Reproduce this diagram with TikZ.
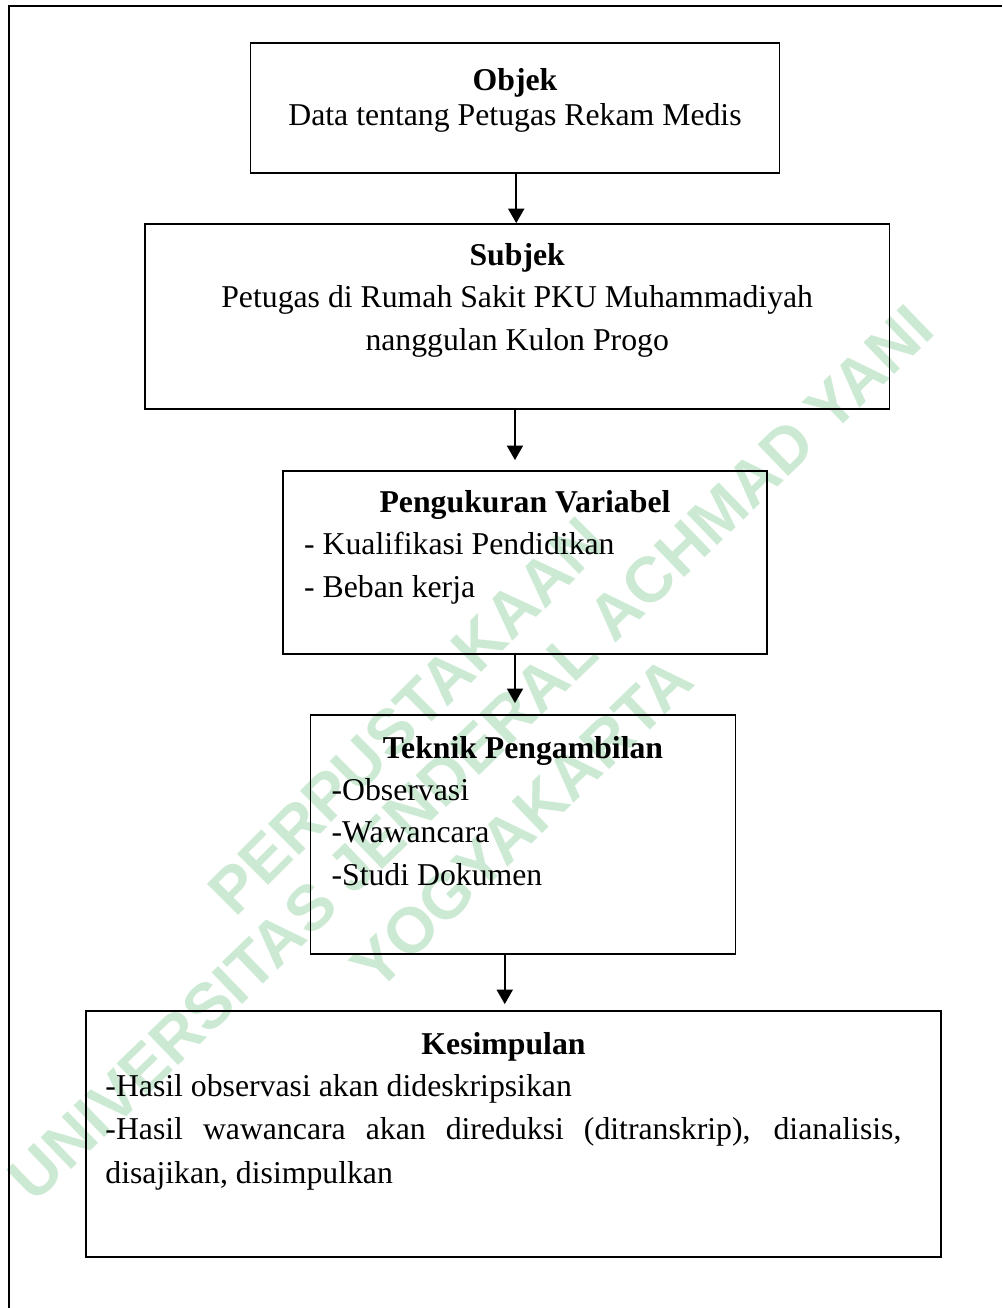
\documentclass[tikz,border=0pt]{standalone}
\usepackage{fontspec}
\setmainfont{Liberation Serif}
\newfontfamily\wmfont{Liberation Sans}
\usetikzlibrary{arrows.meta,positioning,calc}
\definecolor{wmgreen}{RGB}{204,234,211}
\newcommand\bodysize{\fontsize{12.7}{17}\selectfont}

\tikzset{
  box/.style={draw, line width=0.75pt, inner sep=0pt},
  ttl/.style={font=\bodysize\bfseries, inner sep=0pt, anchor=base},
  txt/.style={font=\bodysize, inner sep=0pt, anchor=base},
  item/.style={font=\bodysize, inner sep=0pt, anchor=base west},
  arr/.style={line width=0.75pt, -{Triangle[width=6.4pt,length=5.8pt]}},
  wm/.style={font=\wmfont\bfseries\fontsize{25.6}{26}\selectfont, text=wmgreen, rotate=44, inner sep=0pt}
}

\begin{document}
\begin{tikzpicture}[x=0.4pt, y=-0.4pt]
    % page and frame
    \useasboundingbox (0,0) rectangle (1002,1308);
    \node[wm, rotate=1] (wmA) at (407,716) {PERPUSTAKAAN};
    \node[wm] (wmB) at (471,753) {UNIVERSITAS JENDERAL ACHMAD YANI};
    \node[wm] (wmC) at (522,823) {YOGYAKARTA};
    \draw[line width=0.75pt] (9,1308) -- (9,6) -- (1002,6);

    % boxes
    \node[box, minimum width=211.6pt, minimum height=52pt] (objek) at (515,107.7) {};
    \node[box, minimum width=297.8pt, minimum height=74.1pt] (subjek) at (517.2,316.7) {};
    \node[box, minimum width=193.5pt, minimum height=73.4pt] (ukur) at (525,562.5) {};
    \node[box, minimum width=170pt, minimum height=95.6pt] (teknik) at (523,834.5) {};
    \node[box, minimum width=341.7pt, minimum height=98.5pt] (simpul) at (513.5,1134.2) {};

    % Objek
    \node[ttl] (objekT) at ([yshift=-19.6pt]objek.north) {Objek};
    \node[txt] (objek1) at ([yshift=-13.8pt]objekT.base) {Data tentang Petugas Rekam Medis};

    % Subjek
    \node[ttl] (subjekT) at ([yshift=-16.8pt]subjek.north) {Subjek};
    \node[txt] (subjek1) at ([yshift=-17pt]subjekT.base) {Petugas di Rumah Sakit PKU Muhammadiyah};
    \node[txt] (subjek2) at ([yshift=-17.2pt]subjek1.base) {nanggulan Kulon Progo};

    % Pengukuran Variabel
    \node[ttl] (ukurT) at ([yshift=-17pt]ukur.north) {Pengukuran Variabel};
    \node[item] (ukur1) at ($(ukur.west |- ukurT.base)+(8.6pt,-16.8pt)$) {- Kualifikasi Pendidikan};
    \node[item] (ukur2) at ([yshift=-17.4pt]ukur1.base west) {- Beban kerja};

    % Teknik Pengambilan
    \node[ttl] (teknikT) at ([yshift=-17.6pt]teknik.north) {Teknik Pengambilan};
    \node[item] (teknik1) at ($(teknik.west |- teknikT.base)+(8.6pt,-16.8pt)$) {-Observasi};
    \node[item] (teknik2) at ([yshift=-16.9pt]teknik1.base west) {-Wawancara};
    \node[item] (teknik3) at ([yshift=-17.2pt]teknik2.base west) {-Studi Dokumen};

    % Kesimpulan
    \node[ttl] (simpulT) at ([xshift=-4pt, yshift=-17.9pt]simpul.north) {Kesimpulan};
    \node[item] (simpul1) at ($(simpul.west |- simpulT.base)+(7.8pt,-16.8pt)$) {-Hasil observasi akan dideskripsikan};
    \node[item] (simpul2) at ([yshift=-17.2pt]simpul1.base west) {\makebox[318.4pt][s]{-Hasil wawancara akan direduksi (ditranskrip), dianalisis,}};
    \node[item] (simpul3) at ([yshift=-17.6pt]simpul2.base west) {disajikan, disimpulkan};

    % arrows
    \draw[arr] ([xshift=0.5pt]objek.south) -- ([xshift=0.5pt]objek.south |- subjek.north);
    \draw[arr, shorten >=3.9pt] ([xshift=-0.9pt]subjek.south) -- ([xshift=-0.9pt]subjek.south |- ukur.north);
    \draw[arr, shorten >=4.4pt] ([xshift=-4pt]ukur.south) -- ([xshift=-4pt]ukur.south |- teknik.north);
    \draw[arr, shorten >=2.4pt] ([xshift=-7.3pt]teknik.south) -- ([xshift=-7.3pt]teknik.south |- simpul.north);
\end{tikzpicture}
\end{document}
